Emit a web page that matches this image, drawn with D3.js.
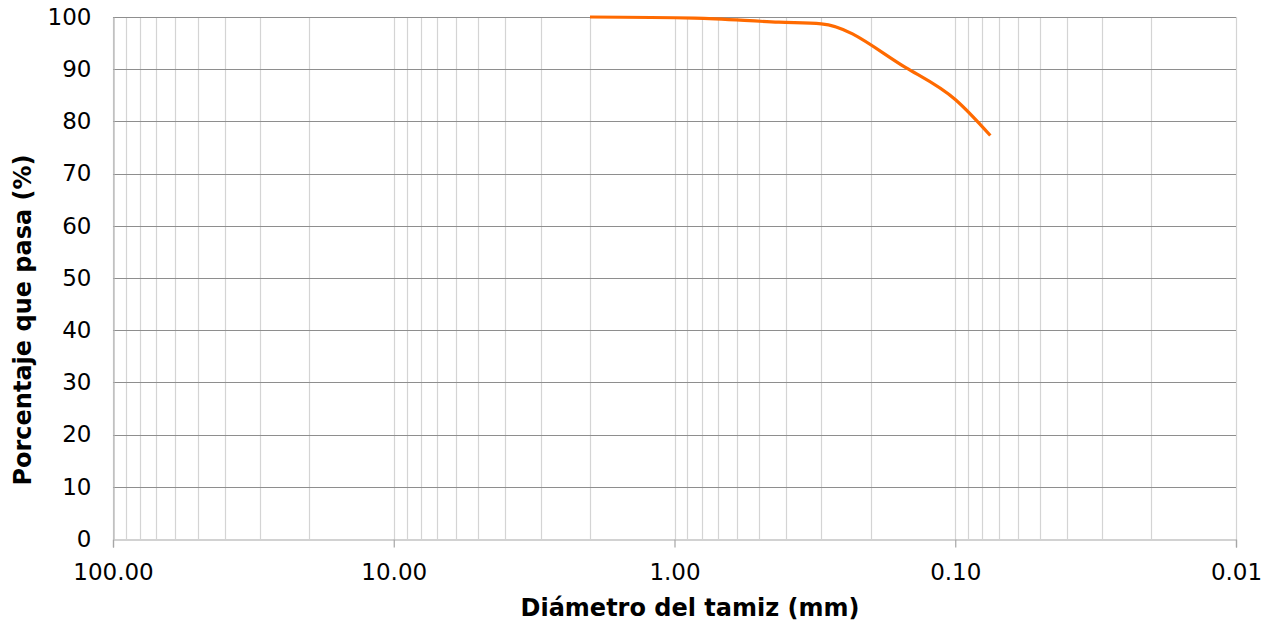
<!DOCTYPE html>
<html>
<head>
<meta charset="utf-8">
<script src="https://cdn.jsdelivr.net/npm/d3@7"></script>
<style>
  body { margin: 0; background: #fff; }
  text { font-family: "DejaVu Sans", Verdana, sans-serif; fill: #000; }
</style>
</head>
<body>
<div id="granulometria"></div>
<script>
// Datos de la curva granulométrica
const tamices = [2.0, 0.85, 0.425, 0.3, 0.15, 0.1, 0.075];
const pasa = [100, 99.8, 99.0, 98.7, 90.3, 84.2, 77.3];
const xTicks = [100, 10, 1, 0.1, 0.01];
const yTicks = [0, 10, 20, 30, 40, 50, 60, 70, 80, 90, 100];

const width = 1274, height = 624;
const margin = { top: 17, right: 38, bottom: 85, left: 113 };

const svg = d3.select("#granulometria")
  .append("svg")
  .attr("width", width)
  .attr("height", height);

// Escalas: eje X logarítmico invertido
const x = d3.scaleLog()
  .domain([100, 0.01])
  .range([margin.left, width - margin.right]);

const y = d3.scaleLinear()
  .domain([0, 100])
  .range([height - margin.bottom, margin.top]);

// Líneas de división verticales (menores y mayores)
svg.append("g")
  .selectAll("line")
  .data(x.ticks())
  .join("line")
  .attr("x1", d => Math.round(x(d)) + 0.5)
  .attr("x2", d => Math.round(x(d)) + 0.5)
  .attr("y1", y(100))
  .attr("y2", y(0))
  .attr("stroke", "#d4d4d4")
  .attr("stroke-width", 1.2);

// Líneas de división horizontales
svg.append("g")
  .selectAll("line")
  .data(yTicks.filter(d => d > 0))
  .join("line")
  .attr("x1", margin.left)
  .attr("x2", width - margin.right)
  .attr("y1", d => Math.round(y(d)) + 0.5)
  .attr("y2", d => Math.round(y(d)) + 0.5)
  .attr("stroke", "#8e8e8e")
  .attr("stroke-width", 1.2);

// Eje X
const gx = svg.append("g")
  .attr("transform", `translate(0,${Math.round(y(0)) + 0.5})`)
  .call(d3.axisBottom(x)
    .tickValues(xTicks)
    .tickFormat(d3.format(".2f"))
    .tickSizeOuter(0)
    .tickSize(8)
    .tickPadding(16));
gx.select(".domain").attr("stroke", "#a6a6a6").attr("stroke-width", 1.2);
gx.selectAll(".tick line").attr("stroke", "#a6a6a6").attr("stroke-width", 1.2);
gx.selectAll("text").attr("font-size", "23px").attr("fill", "#000");

// Eje Y
const gy = svg.append("g")
  .attr("transform", `translate(${margin.left + 0.5},0)`)
  .call(d3.axisLeft(y)
    .tickValues(yTicks)
    .tickSize(0)
    .tickPadding(22));
gy.select(".domain").attr("stroke", "#b4b4b4").attr("stroke-width", 1.2);
gy.selectAll("text").attr("font-size", "23px").attr("fill", "#000");

// Curva suavizada (los puntos van de izquierda a derecha en píxeles)
const linea = d3.line()
  .x((d, i) => x(tamices[i]))
  .y(d => y(d))
  .curve(d3.curveMonotoneX);

svg.append("path")
  .datum(pasa)
  .attr("fill", "none")
  .attr("stroke", "#ff6a00")
  .attr("stroke-width", 3.2)
  .attr("d", linea);

// Títulos de los ejes
svg.append("text")
  .attr("x", 690)
  .attr("y", 616)
  .attr("text-anchor", "middle")
  .attr("font-size", "24px")
  .attr("font-weight", "bold")
  .text("Diámetro del tamiz (mm)");

svg.append("text")
  .attr("transform", "translate(31,320) rotate(-90)")
  .attr("text-anchor", "middle")
  .attr("font-size", "24px")
  .attr("font-weight", "bold")
  .text("Porcentaje que pasa (%)");
</script>
</body>
</html>
